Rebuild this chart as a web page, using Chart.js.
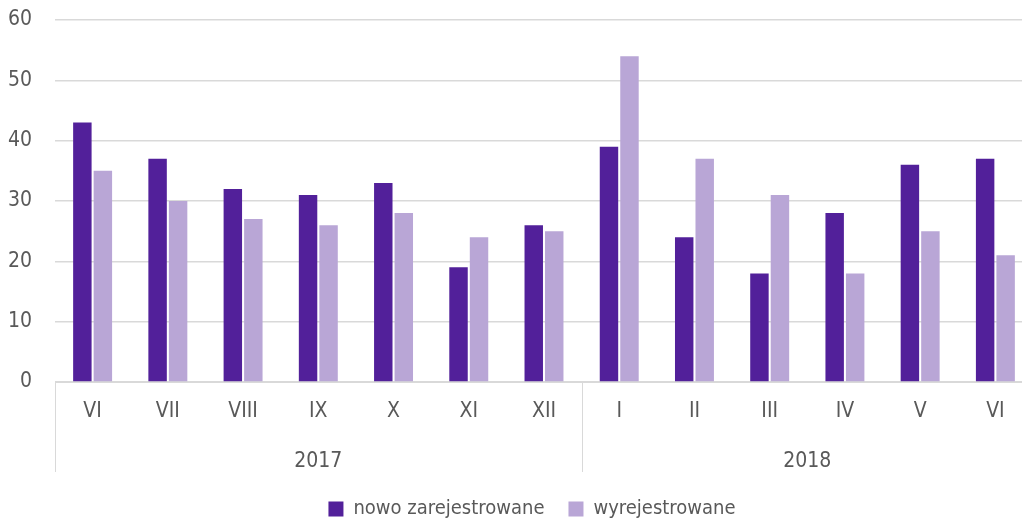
<!DOCTYPE html>
<html>
<head>
<meta charset="utf-8">
<script src="https://cdn.jsdelivr.net/npm/chart.js@4"></script>
<style>
  html, body { margin: 0; padding: 0; background: #fff; overflow: hidden; }
  canvas { display: block; }
</style>
</head>
<body>
<canvas id="chart" width="1060" height="519"></canvas>
<script>
// Data
const months = ["VI", "VII", "VIII", "IX", "X", "XI", "XII", "I", "II", "III", "IV", "V", "VI"];
const years = ["2017", "2018"];
const yearSpans = [7, 6]; // months in each year group
const nowoZarejestrowane = [43, 37, 32, 31, 33, 19, 26, 39, 24, 18, 28, 36, 37];
const wyrejestrowane = [35, 30, 27, 26, 28, 24, 25, 54, 37, 31, 18, 25, 21];

const FONT = "'Liberation Sans Narrow', 'DejaVu Sans Condensed', 'Noto Sans', sans-serif";
const TEXT = '#595959';
const GRID = '#d9d9d9';
const AXIS_BOTTOM = 382;

// year row under the month labels + separator lines, legend nudged into place
const yearGroups = {
    id: 'yearGroups',
    afterLayout(chart) {
        const lg = chart.legend;
        const dx = 532 - (lg.left + lg.right) / 2;
        const dy = 502 - (lg.top + lg.height / 2);
        lg.left += dx; lg.right += dx;
        lg.top += dy; lg.bottom += dy;
    },
    afterDraw(chart) {
        const x = chart.scales.x;
        const ctx = chart.ctx;
        const top = chart.chartArea.bottom;
        const bottom = top + 90;
        const half = (x.getPixelForTick(1) - x.getPixelForTick(0)) / 2;
        ctx.save();
        ctx.strokeStyle = GRID;
        ctx.lineWidth = 1;
        ctx.fillStyle = TEXT;
        ctx.font = '21px ' + FONT;
        ctx.textAlign = 'center';
        ctx.textBaseline = 'middle';
        let start = 0;
        yearSpans.forEach((n, i) => {
            const left = x.getPixelForTick(start) - half;
            const right = x.getPixelForTick(start + n - 1) + half;
            ctx.beginPath();
            ctx.moveTo(Math.round(left) + 0.5, top);
            ctx.lineTo(Math.round(left) + 0.5, bottom);
            ctx.stroke();
            ctx.fillText(years[i], (left + right) / 2, top + 80);
            start += n;
        });
        ctx.restore();
    }
};

new Chart(document.getElementById('chart'), {
    type: 'bar',
    data: {
        labels: months,
        datasets: [{
            label: 'nowo zarejestrowane',
            data: nowoZarejestrowane,
            backgroundColor: '#52209a',
            barPercentage: 0.9,
            categoryPercentage: 0.545
        }, {
            label: 'wyrejestrowane',
            data: wyrejestrowane,
            backgroundColor: '#b9a6d6',
            barPercentage: 0.9,
            categoryPercentage: 0.545
        }]
    },
    options: {
        responsive: false,
        animation: false,
        layout: { padding: { top: 20, right: 27, left: 0, bottom: 0 } },
        plugins: {
            legend: {
                position: 'bottom',
                labels: {
                    color: TEXT,
                    font: { family: FONT, size: 20 },
                    boxWidth: 15,
                    boxHeight: 15,
                    padding: 24
                }
            },
            tooltip: { enabled: false }
        },
        scales: {
            x: {
                grid: { display: false },
                border: { display: true, color: GRID },
                ticks: { color: TEXT, font: { family: FONT, size: 21 }, padding: 9 },
                afterFit(scale) {
                    const lh = scale.chart.legend ? scale.chart.legend.height : 47;
                    scale.height = 519 - AXIS_BOTTOM - lh;
                }
            },
            y: {
                min: 0,
                max: 60,
                ticks: { stepSize: 10, color: TEXT, font: { family: FONT, size: 21 }, padding: 0 },
                grid: { color: GRID, lineWidth: 1.5, drawTicks: true, tickLength: 23, tickColor: 'rgba(0,0,0,0)' },
                border: { display: false },
                afterFit(scale) { scale.width = 55; }
            }
        }
    },
    plugins: [yearGroups]
});
</script>
</body>
</html>
